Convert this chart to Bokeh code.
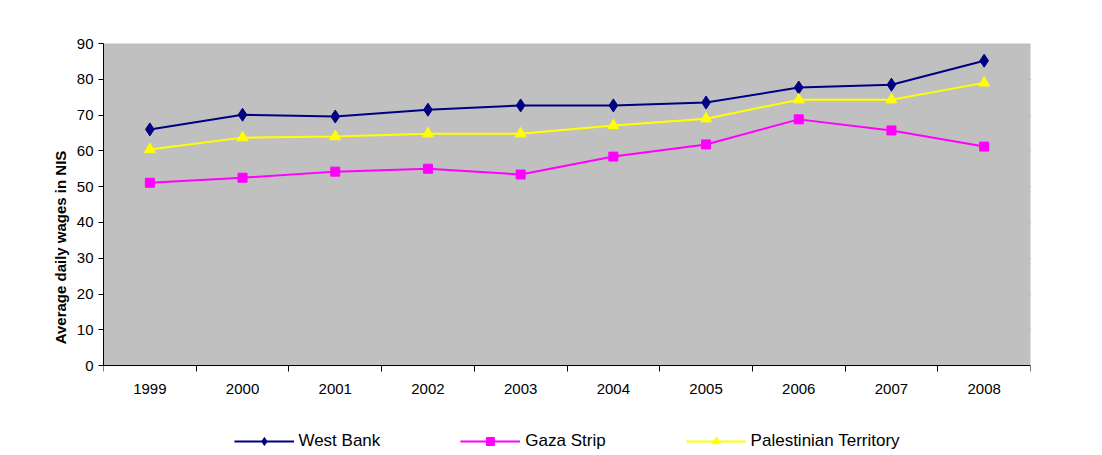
from bokeh.plotting import figure
from bokeh.models import FixedTicker, Legend, LegendItem, Range1d, BoxAnnotation
from bokeh.embed import file_html
from bokeh.resources import INLINE

years = ['1999', '2000', '2001', '2002', '2003', '2004', '2005', '2006', '2007', '2008']
west_bank = [66.0, 70.1, 69.6, 71.5, 72.7, 72.7, 73.5, 77.7, 78.5, 85.2]
gaza_strip = [51.1, 52.5, 54.2, 55.0, 53.4, 58.4, 61.8, 68.8, 65.7, 61.2]
palestinian = [60.4, 63.7, 64.0, 64.8, 64.8, 67.1, 69.0, 74.3, 74.3, 79.0]

x = list(range(1, len(years) + 1))

# the frame reaches below zero so the legend can sit under the axis labels
p = figure(frame_width=927, frame_height=408, output_backend="svg", toolbar_location=None,
           x_range=Range1d(0.5, len(years) + 0.5), y_range=Range1d(-24, 90),
           min_border_left=103, min_border_right=60, min_border_top=43, min_border_bottom=0)
p.outline_line_color = None
p.add_layout(BoxAnnotation(bottom=0, top=90, fill_color="#C0C0C0", fill_alpha=1,
                           line_color="#808080", level="underlay"))
p.xgrid.grid_line_color = None
p.ygrid.grid_line_color = "black"
p.ygrid.ticker = FixedTicker(ticks=list(range(10, 91, 10)))

p.xaxis.fixed_location = 0
p.xaxis.ticker = FixedTicker(ticks=x, minor_ticks=[i + 0.5 for i in range(len(years) + 1)])
p.xaxis.major_label_overrides = {i: y for i, y in zip(x, years)}
p.xaxis.major_tick_out = 0
p.xaxis.major_tick_in = 0
p.xaxis.minor_tick_out = 6
p.xaxis.minor_tick_in = 0
p.xaxis.major_label_standoff = 12
p.yaxis.bounds = (0, 90)
p.yaxis.ticker = FixedTicker(ticks=list(range(0, 91, 10)))
p.yaxis.minor_tick_line_color = None
p.yaxis.major_tick_in = 0
p.yaxis.major_tick_out = 5
p.yaxis.axis_label = "Average daily wages in NIS"
p.yaxis.axis_label_text_font_style = "bold"
p.yaxis.axis_label_text_color = "black"
for ax in (p.xaxis, p.yaxis):
    ax.major_label_text_font = "Liberation Sans"
    ax.major_label_text_font_size = "15px"
    ax.axis_label_text_font = "Liberation Sans"
    ax.axis_label_text_font_size = "15px"
    ax.axis_line_color = "black"
    ax.major_label_text_color = "black"

l1 = p.line(x, west_bank, line_color="#000080", line_width=2)
m1 = p.scatter(x, west_bank, marker="diamond", size=13, color="#000080")
l2 = p.line(x, gaza_strip, line_color="#FF00FF", line_width=2)
m2 = p.scatter(x, gaza_strip, marker="square", size=9, color="#FF00FF")
l3 = p.line(x, palestinian, line_color="#FFFF00", line_width=2)
m3 = p.scatter(x, palestinian, marker="triangle", size=11, color="#FFFF00")

legend = Legend(items=[
    LegendItem(label="West Bank", renderers=[l1, m1]),
    LegendItem(label="Gaza Strip", renderers=[l2, m2]),
    LegendItem(label="Palestinian Territory", renderers=[l3, m3]),
], orientation="horizontal", location="bottom_center", background_fill_alpha=0,
    border_line_color=None, label_text_font="Liberation Sans", label_text_font_size="17px",
    label_text_color="black", glyph_width=60, spacing=80, margin=0, padding=0)
p.add_layout(legend)

open("out.html", "w").write(file_html(p, INLINE))
